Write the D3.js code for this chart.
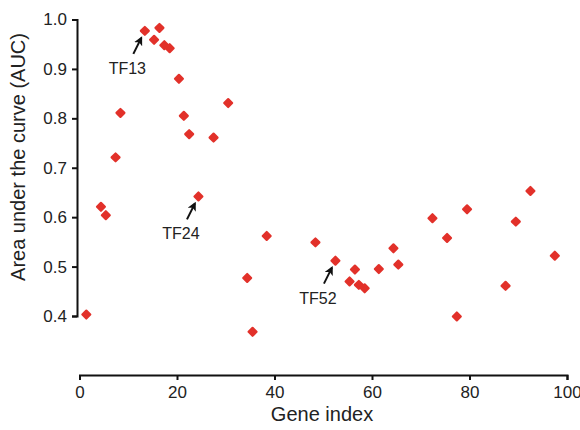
<!DOCTYPE html>
<html>
<head>
<meta charset="utf-8">
<script src="https://cdn.jsdelivr.net/npm/d3@7"></script>
<style>
  body { margin: 0; background: #fff; }
  text { font-family: "Liberation Sans", Arial, sans-serif; fill: #222; }
</style>
</head>
<body>
<script>
// gene index and AUC
var geneIndex = [1.4, 4.4, 5.4, 7.4, 8.4, 13.4, 15.3, 16.4, 17.4, 18.5,
                 20.4, 21.4, 22.5, 24.4, 27.5, 30.5, 34.4, 35.5, 38.4, 48.4,
                 52.5, 55.4, 56.5, 57.3, 58.5, 61.4, 64.4, 65.4, 72.4, 75.4,
                 77.4, 79.5, 87.4, 89.5, 92.5, 97.5];
var auc = [0.403, 0.621, 0.604, 0.721, 0.811, 0.977, 0.959, 0.983, 0.948, 0.942,
           0.880, 0.805, 0.768, 0.642, 0.761, 0.831, 0.477, 0.368, 0.562, 0.549,
           0.512, 0.470, 0.494, 0.463, 0.456, 0.495, 0.537, 0.504, 0.598, 0.558,
           0.399, 0.616, 0.461, 0.591, 0.653, 0.522];
var labelled = ["TF13", "TF24", "TF52"];
var labelledIdx = [5, 13, 20];
var xTicks = [0, 20, 40, 60, 80, 100];
var yTicks = [0.4, 0.5, 0.6, 0.7, 0.8, 0.9, 1.0];

var w = 580, h = 430;

var svg = d3.select("body").append("svg")
    .attr("width", w)
    .attr("height", h);

var x = d3.scaleLinear().domain([0, 100]).range([79.5, 567]);
var y = d3.scaleLinear().domain([0.4, 1.0]).range([316, 19.5]);

// y axis, offset to the left of the x axis start
var yAxis = svg.append("g")
    .attr("transform", "translate(77,0)")
    .call(d3.axisLeft(y).tickValues(yTicks).tickFormat(d3.format(".1f"))
        .tickSizeOuter(0).tickSize(5).tickPadding(5));

var xAxis = svg.append("g")
    .attr("transform", "translate(0,375)")
    .call(d3.axisBottom(x).tickValues(xTicks)
        .tickSizeOuter(0).tickSize(5).tickPadding(6));

svg.selectAll(".domain, .tick line")
    .attr("stroke", "#111")
    .attr("stroke-width", 2);
svg.selectAll(".tick text")
    .style("font-size", "17px")
    .style("font-family", "'Liberation Sans', Arial, sans-serif")
    .attr("fill", "#222");

// axis titles
svg.append("text")
    .attr("x", 322)
    .attr("y", 421)
    .attr("text-anchor", "middle")
    .style("font-size", "20px")
    .text("Gene index");

svg.append("text")
    .attr("transform", "translate(25,157) rotate(-90)")
    .attr("text-anchor", "middle")
    .style("font-size", "20px")
    .text("Area under the curve (AUC)");

// points
var pts = geneIndex.map(function(d, i){
    return { g: d, a: auc[i] };
});

var marker = d3.symbol().type(d3.symbolDiamond2).size(40);

svg.selectAll(".pt")
    .data(pts)
    .enter()
    .append("path")
    .attr("class", "pt")
    .attr("d", marker)
    .attr("transform", function(d){
        return "translate(" + x(d.g) + "," + y(d.a) + ")";
    })
    .attr("fill", "#e2312a")
    .attr("stroke", "#e2312a")
    .attr("stroke-width", 2.2)
    .attr("stroke-linejoin", "round");

// arrow marker
svg.append("defs").append("marker")
    .attr("id", "head")
    .attr("viewBox", "0 0 10 10")
    .attr("refX", 8)
    .attr("refY", 5)
    .attr("markerWidth", 4.5)
    .attr("markerHeight", 4.5)
    .attr("orient", "auto")
    .append("path")
    .attr("d", "M0,0L10,5L0,10L2.5,5Z")
    .attr("fill", "#111");

var notes = labelled.map(function(t, i){
    return { name: t, p: pts[labelledIdx[i]] };
});

svg.selectAll(".arrow")
    .data(notes)
    .enter()
    .append("line")
    .attr("class", "arrow")
    .attr("x1", function(d){ return x(d.p.g) - 11.5; })
    .attr("y1", function(d){ return y(d.p.a) + 23; })
    .attr("x2", function(d){ return x(d.p.g) - 3.5; })
    .attr("y2", function(d){ return y(d.p.a) + 7; })
    .attr("stroke", "#111")
    .attr("stroke-width", 2)
    .attr("marker-end", "url(#head)");

svg.selectAll(".note")
    .data(notes)
    .enter()
    .append("text")
    .attr("class", "note")
    .attr("x", function(d){ return x(d.p.g) - 17.5; })
    .attr("y", function(d){ return y(d.p.a) + 43; })
    .attr("text-anchor", "middle")
    .style("font-size", "16px")
    .text(function(d){ return d.name; });
</script>
</body>
</html>
